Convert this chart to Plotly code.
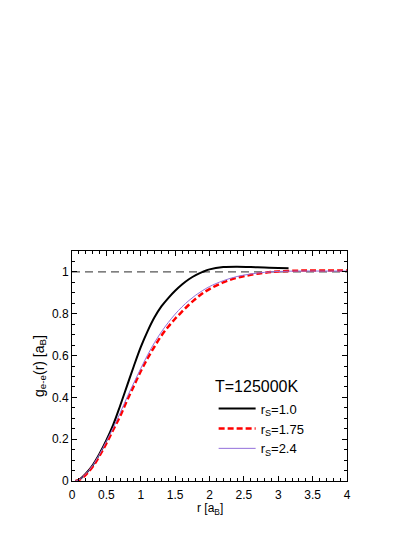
import plotly.graph_objects as go

r_black = [0.05, 0.1, 0.2, 0.3, 0.4, 0.5, 0.6, 0.7, 0.8, 0.9, 1.0, 1.1, 1.2, 1.3, 1.4, 1.5,
           1.6, 1.7, 1.8, 1.9, 2.0, 2.2, 2.4, 2.6, 2.8, 3.0, 3.15]
g_black = [0.0, 0.005, 0.035, 0.075, 0.13, 0.195, 0.27, 0.36, 0.455, 0.55, 0.64, 0.717, 0.783,
           0.835, 0.875, 0.91, 0.94, 0.965, 0.985, 1.0, 1.012, 1.023, 1.025, 1.023, 1.021,
           1.019, 1.018]

r_other = [0.05, 0.1, 0.2, 0.3, 0.4, 0.5, 0.6, 0.7, 0.8, 0.9, 1.0, 1.1, 1.2, 1.3, 1.4, 1.5,
           1.6, 1.7, 1.8, 1.9, 2.0, 2.2, 2.4, 2.6, 2.8, 3.0, 3.3, 3.6, 4.0]
g_red = [0.0, 0.004, 0.03, 0.068, 0.12, 0.18, 0.245, 0.31, 0.385, 0.455, 0.525, 0.587, 0.643,
         0.695, 0.738, 0.776, 0.81, 0.843, 0.872, 0.898, 0.918, 0.95, 0.972, 0.986, 0.996, 1.002,
         1.006, 1.007, 1.007]
g_purple = [0.0, 0.005, 0.034, 0.074, 0.128, 0.19, 0.255, 0.325, 0.4, 0.47, 0.538, 0.603,
            0.662, 0.713, 0.758, 0.798, 0.833, 0.863, 0.889, 0.911, 0.93, 0.958, 0.978, 0.99,
            0.998, 1.002, 1.004, 1.004, 1.004]

ref_x = [0, 4]
ref_y = [1, 1]

labels = ["r<sub>S</sub>=1.0", "r<sub>S</sub>=1.75", "r<sub>S</sub>=2.4"]

FONT = "Liberation Sans, Arial, sans-serif"

fig = go.Figure()
fig.add_trace(go.Scatter(x=ref_x, y=ref_y, mode="lines", showlegend=False,
                         line=dict(color="#555555", width=1.2, dash="8px,5px")))
fig.add_trace(go.Scatter(x=r_black, y=g_black, mode="lines", name=labels[0],
                         line=dict(color="black", width=2, shape="spline")))
fig.add_trace(go.Scatter(x=r_other, y=g_red, mode="lines", name=labels[1],
                         line=dict(color="#ff0000", width=2.5, dash="6px,3px", shape="spline")))
fig.add_trace(go.Scatter(x=r_other, y=g_purple, mode="lines", name=labels[2],
                         line=dict(color="#9370db", width=1, shape="spline")))

axis_common = dict(
    showline=True, linecolor="black", linewidth=1, mirror="allticks",
    ticks="inside", ticklen=5, tickcolor="black", showgrid=False, zeroline=False,
    automargin=False,
    tickfont=dict(family=FONT, size=12, color="black"),
)
fig.update_xaxes(range=[0, 4], dtick=0.5, tick0=0, ticklabelstandoff=3,
                 minor=dict(dtick=0.1, ticks="inside", ticklen=3, tickcolor="black"),
                 **axis_common)
fig.update_yaxes(range=[0, 1.1], tickvals=[0, 0.2, 0.4, 0.6, 0.8, 1],
                 ticktext=["0", "0.2", "0.4", "0.6", "0.8", "1"],
                 minor=dict(dtick=0.05, ticks="inside", ticklen=3, tickcolor="black"),
                 title=dict(text="g<sub>e-e</sub>(r) [a<sub>B</sub>]",
                            font=dict(family=FONT, size=14, color="black"), standoff=4),
                 **axis_common)

fig.add_annotation(x=0.5, y=-0.123, xref="paper", yref="paper", xanchor="center", yanchor="middle",
                   text="r [a<sub>B</sub>]", showarrow=False,
                   font=dict(family=FONT, size=12, color="black"))
fig.add_annotation(x=0.512, y=0.41, xref="paper", yref="paper", xanchor="left", yanchor="middle",
                   text="T=125000K", showarrow=False,
                   font=dict(family=FONT, size=16, color="black"))

# page body has an 8px margin, so the margins below are offset by 8px
fig.update_layout(
    width=420, height=543,
    margin=dict(l=64, r=81, t=243, b=70),
    paper_bgcolor="white", plot_bgcolor="white",
    legend=dict(x=0.515, y=0.38, xanchor="left", yanchor="top", itemwidth=37,
                bgcolor="rgba(0,0,0,0)", font=dict(family=FONT, size=13, color="black"),
                tracegroupgap=0),
)

fig.write_html("out.html")
